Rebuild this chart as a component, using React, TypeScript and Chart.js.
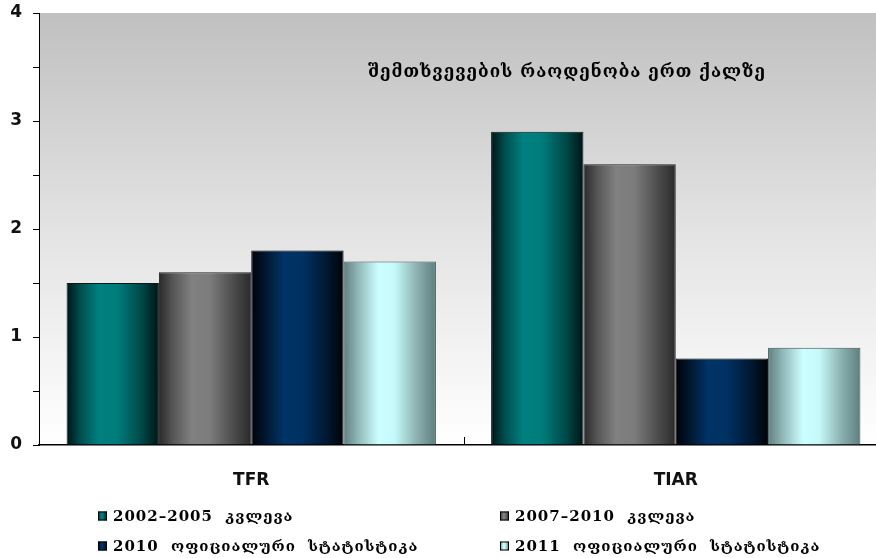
import React, { useEffect, useRef } from "react";
import { Chart, registerables } from "chart.js";

Chart.register(...registerables);

const categories = ["TFR", "TIAR"];
const seriesLabels = [
  "2002–2005 კვლევა",
  "2007–2010 კვლევა",
  "2010 ოფიციალური სტატისტიკა",
  "2011 ოფიციალური სტატისტიკა",
];
const survey2002 = [1.5, 2.9];
const survey2007 = [1.6, 2.6];
const official2010 = [1.8, 0.8];
const official2011 = [1.7, 0.9];
const yTicks = [0, 1, 2, 3, 4];
const titleText = "შემთხვევების რაოდენობა ერთ ქალზე";

const FONT = "'DejaVu Sans', sans-serif";
const TEXT_FONT = "'DejaVu Serif', 'DejaVu Sans', serif";

// gradient stops per series [offset, color]
const barStops: [number, string][][] = [
  [[0, "#001414"], [0.15, "#004e4e"], [0.35, "#008080"], [0.55, "#007c7c"], [0.82, "#004646"], [1, "#001414"]],
  [[0, "#2a2a2a"], [0.15, "#555555"], [0.35, "#808080"], [0.55, "#7c7c7c"], [0.82, "#4a4a4a"], [1, "#2a2a2a"]],
  [[0, "#000308"], [0.15, "#00172e"], [0.35, "#003366"], [0.55, "#003163"], [0.82, "#001830"], [1, "#000308"]],
  [[0, "#5f7f7f"], [0.15, "#8fb5b5"], [0.38, "#ccffff"], [0.55, "#c6fafa"], [0.82, "#86a9a9"], [1, "#5f7f7f"]],
];
const borderColors = ["#0a1a1a", "#222222", "#000000", "#3c5454"];
const solidColors = ["#008080", "#808080", "#003366", "#ccffff"];

const catPct = 0.87;

function barGradient(ctx: any, di: number) {
  const chart = ctx.chart;
  const xs = chart.scales?.x;
  if (!xs || ctx.dataIndex == null || !chart.chartArea) return solidColors[di];
  const n = chart.data.datasets.length;
  const catW = xs.width / chart.data.labels.length;
  const groupW = catW * catPct;
  const center = xs.getPixelForValue(ctx.dataIndex);
  const left = center - groupW / 2 + (di * groupW) / n;
  const right = left + groupW / n;
  const g = chart.ctx.createLinearGradient(left, 0, right, 0);
  barStops[di].forEach(([o, c]) => g.addColorStop(o, c));
  return g;
}

const decorPlugin = {
  id: "decor",
  beforeDraw(chart: any) {
    const { ctx, chartArea } = chart;
    if (!chartArea) return;
    ctx.save();
    const g = ctx.createLinearGradient(0, chartArea.top, 0, chartArea.bottom);
    g.addColorStop(0, "#c0c0c0");
    g.addColorStop(0.5, "#e3e3e3");
    g.addColorStop(1, "#ffffff");
    ctx.fillStyle = g;
    ctx.fillRect(chartArea.left, chartArea.top, chartArea.right - chartArea.left, chartArea.bottom - chartArea.top);
    ctx.restore();
  },
  afterDraw(chart: any) {
    const { ctx, chartArea } = chart;
    const xs = chart.scales.x;
    ctx.save();
    // category separator tick
    const bx = (xs.getPixelForValue(0) + xs.getPixelForValue(1)) / 2;
    ctx.strokeStyle = "#000";
    ctx.lineWidth = 1;
    ctx.beginPath();
    ctx.moveTo(Math.round(bx) + 0.5, chartArea.bottom);
    ctx.lineTo(Math.round(bx) + 0.5, chartArea.bottom - 8);
    ctx.stroke();

    // title
    ctx.fillStyle = "#000";
    ctx.font = `bold 17px ${TEXT_FONT}`;
    (ctx as any).letterSpacing = "1px";
    ctx.textAlign = "center";
    ctx.textBaseline = "middle";
    ctx.fillText(titleText, 567, 73);

    // legend
    const cols = [98, 500];
    const rows = [516, 546];
    ctx.font = `bold 15px ${TEXT_FONT}`;
    (ctx as any).letterSpacing = "1px";
    (ctx as any).wordSpacing = "6px";
    ctx.textAlign = "left";
    chart.data.datasets.forEach((ds: any, i: number) => {
      const x = cols[i % 2];
      const y = rows[Math.floor(i / 2)];
      const s = 9;
      const gg = ctx.createLinearGradient(x, 0, x + s, 0);
      barStops[i].forEach(([o, c]) => gg.addColorStop(o, c));
      ctx.fillStyle = gg;
      ctx.fillRect(x, y - s / 2, s, s);
      ctx.strokeStyle = "#000";
      ctx.lineWidth = 1;
      ctx.strokeRect(x + 0.5, y - s / 2 + 0.5, s - 1, s - 1);
      ctx.fillStyle = "#000";
      ctx.fillText(ds.label, x + 15, y + 1);
    });
    ctx.restore();
  },
};

export default function App() {
  const ref = useRef<HTMLCanvasElement | null>(null);
  useEffect(() => {
    if (!ref.current) return;
    const series = [survey2002, survey2007, official2010, official2011];
    const chart = new Chart(ref.current, {
      type: "bar",
      data: {
        labels: categories,
        datasets: series.map((d, i) => ({
          label: seriesLabels[i],
          data: d,
          backgroundColor: (ctx: any) => barGradient(ctx, i),
          borderColor: borderColors[i],
          borderWidth: 1,
          borderSkipped: "bottom",
          barPercentage: 1,
          categoryPercentage: catPct,
        })),
      },
      options: {
        responsive: false,
        animation: false,
        layout: { padding: { top: 13, right: 0, bottom: 0, left: 0 } },
        plugins: {
          legend: { display: false },
          title: { display: false },
          tooltip: { enabled: false },
        },
        scales: {
          x: {
            type: "category",
            offset: true,
            grid: { display: false },
            border: { display: true, color: "#000", width: 1.5 },
            ticks: {
              color: "#111",
              font: { family: FONT, size: 17, weight: "bold" },
              padding: 17,
            },
            afterFit: (s: any) => {
              s.height = 113;
              s.paddingLeft = 0;
              s.paddingRight = 0;
            },
          },
          y: {
            min: 0,
            max: 4,
            afterBuildTicks: (s: any) => {
              const t: any[] = [];
              yTicks.forEach((v, i) => {
                t.push({ value: v });
                if (i < yTicks.length - 1) t.push({ value: v + 0.5 });
              });
              s.ticks = t;
            },
            ticks: {
              color: "#111",
              font: { family: FONT, size: 17, weight: "bold" },
              padding: 11,
              callback: (v: any) => (Number.isInteger(v) ? String(v) : ""),
            },
            grid: {
              drawOnChartArea: false,
              drawTicks: true,
              tickLength: 6,
              color: "#000",
              lineWidth: 1,
            },
            border: { display: true, color: "#000", width: 1 },
            afterFit: (s: any) => {
              s.width = 39;
              s.paddingTop = 0;
              s.paddingBottom = 0;
            },
          },
        },
      },
      plugins: [decorPlugin],
    });
    return () => chart.destroy();
  }, []);
  return (
    <div
      style={{
        position: "fixed",
        left: 0,
        top: 0,
        width: 876,
        height: 558,
        overflow: "hidden",
        background: "#fff",
      }}
    >
      <canvas ref={ref} width={888} height={558} style={{ display: "block" }} />
    </div>
  );
}
